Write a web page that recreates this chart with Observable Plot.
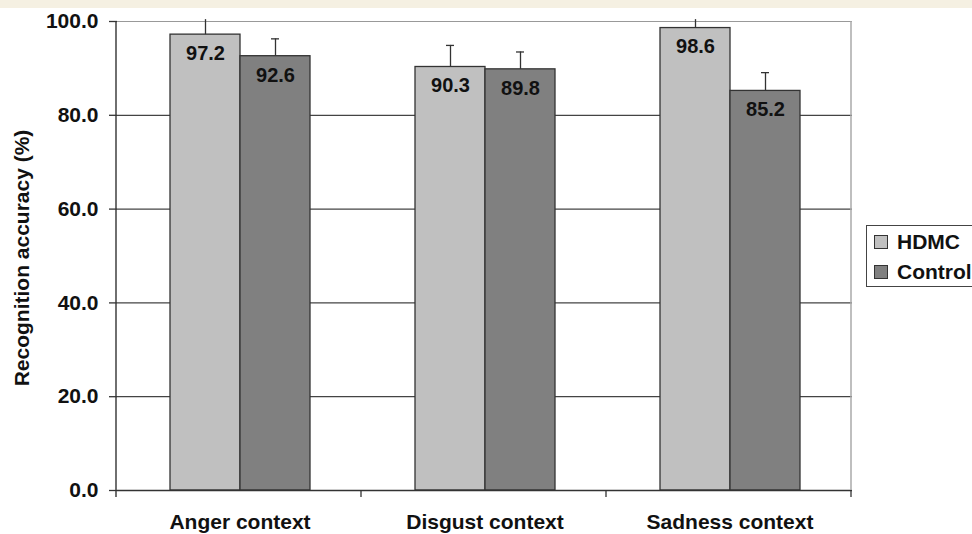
<!DOCTYPE html>
<html>
<head>
<meta charset="utf-8">
<script src="https://cdn.jsdelivr.net/npm/d3@7"></script>
<script src="https://cdn.jsdelivr.net/npm/@observablehq/plot@0.6"></script>
<style>
  html, body { margin: 0; padding: 0; background: #fff; }
  #wrap { position: relative; width: 972px; height: 534px; overflow: hidden; font-family: "Liberation Sans", Arial, sans-serif; }
  #strip { position: absolute; left: 0; top: 0; width: 972px; height: 8px; background: #f5f0e2; }
  #ytitle { position: absolute; left: 22px; top: 258px; transform: translate(-50%, -50%) rotate(-90deg); white-space: nowrap; font-weight: bold; font-size: 21px; color: #111; }
  #legend { position: absolute; left: 866px; top: 225px; width: 130px; height: 60px; border: 1px solid #444; background: #fff; }
  .item { position: absolute; left: 7px; display: flex; align-items: center; font-weight: bold; font-size: 21px; color: #111; }
  .sw { width: 12px; height: 12px; border: 1px solid #333; margin-right: 9px; }
</style>
</head>
<body>
<div id="wrap">
  <div id="chart"></div>
  <div id="strip"></div>
  <div id="ytitle"></div>
  <div id="legend"></div>
</div>
<script>
const contexts = ["Anger context", "Disgust context", "Sadness context"];
const groups = ["HDMC", "Control"];
const hdmcValues = [97.2, 90.3, 98.6];
const controlValues = [92.6, 89.8, 85.2];
const hdmcErrors = [3.2, 4.6, 1.8];
const controlErrors = [3.7, 3.7, 3.9];
const yTicks = [0, 20, 40, 60, 80, 100];
const groupColors = ["#c0c0c0", "#808080"];
const yTitle = "Recognition accuracy (%)";

const data = [];
contexts.forEach((c, i) => {
  data.push({context: c, group: "HDMC", value: hdmcValues[i], err: hdmcErrors[i]});
  data.push({context: c, group: "Control", value: controlValues[i], err: controlErrors[i]});
});

const chart = Plot.plot({
  width: 972,
  height: 534,
  marginTop: 21,
  marginBottom: 44,
  marginLeft: 116,
  marginRight: 119,
  style: {fontFamily: "'Liberation Sans', Arial, sans-serif", color: "#111", background: "transparent"},
  fx: {domain: contexts, padding: 0, axis: null},
  x: {domain: groups, paddingInner: 0, paddingOuter: 0.73, axis: null},
  y: {domain: [0, 100], axis: null},
  color: {domain: groups, range: groupColors},
  marks: [
    Plot.gridY(yTicks.filter(t => t > 0 && t < 100), {stroke: "#444", strokeOpacity: 1, strokeWidth: 1.2}),
    Plot.ruleY([100], {stroke: "#999", strokeWidth: 1.2}),
    Plot.barY(data, {fx: "context", x: "group", y: "value", fill: "group", stroke: "#333", strokeWidth: 1.3}),
    Plot.ruleX(data, {fx: "context", x: "group", y1: "value", y2: d => d.value + d.err, stroke: "#333", strokeWidth: 1.3}),
    Plot.tickY(data.filter(d => d.value + d.err <= 100), {fx: "context", x: "group", y: d => d.value + d.err, stroke: "#333", strokeWidth: 1.3, insetLeft: 31, insetRight: 31}),
    Plot.text(data, {fx: "context", x: "group", y: "value", text: d => d.value.toFixed(1), dy: 19, fontSize: 20, fontWeight: "bold", fill: "#111", lineAnchor: "middle"}),
    Plot.ruleY([0], {stroke: "#333", strokeWidth: 1.3}),
    Plot.axisY({ticks: yTicks, tickFormat: d3.format(".1f"), tickSize: 8, tickPadding: 11, fontSize: 21, fontWeight: "bold", label: null, stroke: "#333", strokeWidth: 1.3}),
    Plot.axisFx({anchor: "bottom", tickSize: 0, tickPadding: 24, fontSize: 21, fontWeight: "bold", label: null})
  ]
});

document.getElementById("chart").appendChild(chart);

// frame lines and category boundary ticks from the plot's own scales
const fx = chart.scale("fx");
const ys = chart.scale("y");
const svg = d3.select(chart);
const x0 = fx.range[0];
const step = fx.step;
const yTop = ys.apply(100);
const yBase = ys.apply(0);
const g = svg.append("g");
g.append("line").attr("x1", x0 + step * contexts.length).attr("x2", x0 + step * contexts.length)
  .attr("y1", yTop).attr("y2", yBase).attr("stroke", "#aaa").attr("stroke-width", 1.5);
g.append("line").attr("x1", x0).attr("x2", x0).attr("y1", yTop).attr("y2", yBase + 7)
  .attr("stroke", "#333").attr("stroke-width", 1.4);
d3.range(1, contexts.length + 1).forEach(i => {
  g.append("line").attr("x1", x0 + step * i).attr("x2", x0 + step * i)
    .attr("y1", yBase).attr("y2", yBase + 7).attr("stroke", "#333").attr("stroke-width", 1.3);
});

document.getElementById("ytitle").textContent = yTitle;
const legend = document.getElementById("legend");
groups.forEach((gname, i) => {
  const item = document.createElement("div");
  item.className = "item";
  item.style.top = (i === 0 ? 4 : 34) + "px";
  const sw = document.createElement("div");
  sw.className = "sw";
  sw.style.background = groupColors[i];
  item.appendChild(sw);
  const t = document.createElement("span");
  t.textContent = gname;
  item.appendChild(t);
  legend.appendChild(item);
});
</script>
</body>
</html>
